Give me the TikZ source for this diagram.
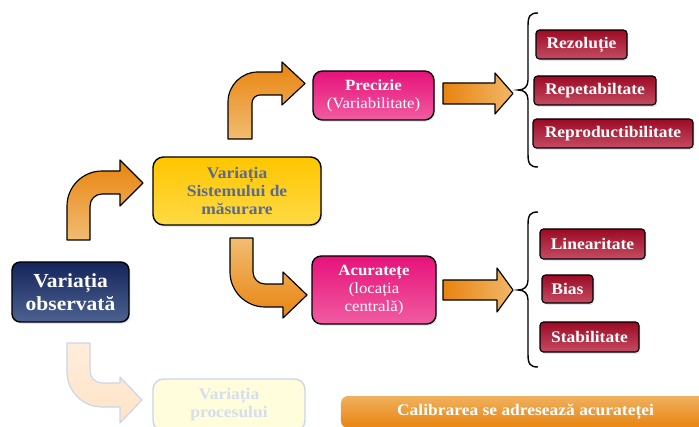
\documentclass[tikz,border=0pt]{standalone}
\usepackage{fontspec}
\setmainfont{Liberation Serif}[FakeStretch=1.08]
\usetikzlibrary{shadows}
\definecolor{navytop}{HTML}{15255C}
\definecolor{navybot}{HTML}{4D6290}
\definecolor{yeltop}{HTML}{FFC600}
\definecolor{yelbot}{HTML}{FFDA45}
\definecolor{yeltext}{HTML}{5A6B8E}
\definecolor{pinktop}{HTML}{E6127A}
\definecolor{pinkbot}{HTML}{F15CA2}
\definecolor{redtop}{HTML}{9C0A24}
\definecolor{redbot}{HTML}{C44C62}
\definecolor{ordark}{HTML}{E8840F}
\definecolor{orlight}{HTML}{F2BC72}
\definecolor{glow}{HTML}{C9D6EA}
\tikzstyle{boxbase}=[draw=black,line width=1.2pt,align=center,inner sep=0pt,
                     drop shadow={shadow xshift=1.2pt,shadow yshift=-1.5pt,
                                  fill=glow,opacity=0.6}]
\tikzstyle{navybox}=[boxbase,rounded corners=7pt,top color=navytop,bottom color=navybot,
                     text=white,font=\fontsize{17}{19.5}\selectfont\bfseries]
\tikzstyle{yelbox}=[boxbase,rounded corners=9pt,top color=yeltop,bottom color=yelbot,
                    text=yeltext,font=\fontsize{13.8}{15.3}\selectfont\bfseries]
\tikzstyle{pinkbox}=[boxbase,rounded corners=8pt,top color=pinktop,bottom color=pinkbot,
                     text=white,font=\fontsize{13.3}{15.3}\selectfont]
\tikzstyle{redbox}=[boxbase,line width=1pt,rounded corners=3pt,top color=redtop,
                    bottom color=redbot,text=white,font=\fontsize{13.8}{15}\selectfont\bfseries]
\tikzstyle{fadebox}=[draw=glow,line width=1.2pt,rounded corners=9pt,align=center,
                     inner sep=0pt,fill=yellow!14,text=glow!80,
                     font=\fontsize{13.8}{15.3}\selectfont\bfseries]
\tikzstyle{bentarrow}=[draw=black,line width=1pt,line join=round,
                       top color=ordark,bottom color=orlight]
\tikzstyle{flatarrow}=[draw=black,line width=1pt,line join=round,
                       left color=ordark,right color=orlight!90!ordark]
\tikzstyle{bracket}=[draw=black,line width=1.2pt]

\begin{document}
\begin{tikzpicture}[x=0.03cm,y=-0.03cm]
    \useasboundingbox (0,0) rectangle (699,427);
    % boxes
    \node (obs) at (70.5,292) [navybox,minimum width=3.51cm,minimum height=1.8cm]
        {Variația\\observată};
    \node (sms) at (237,191) [yelbox,minimum width=5.04cm,minimum height=2.04cm]
        {Variația\\Sistemului de\\măsurare};
    \node (proc) at (229,405) [fadebox,minimum width=4.56cm,minimum height=1.56cm]
        {Variația\\procesului};
    \node (prec) at (373.5,95.5) [pinkbox,minimum width=3.63cm,minimum height=1.47cm]
        {\textbf{Precizie}\\(Variabilitate)};
    \node (acc) at (374,290) [pinkbox,minimum width=3.72cm,minimum height=2.04cm]
        {\textbf{Acuratețe}\\(locația\\centrală)};
    \node (rez) at (581.5,44.5) [redbox,minimum width=2.73cm,minimum height=0.87cm] {Rezoluție};
    \node (rep) at (595,90.5) [redbox,minimum width=3.66cm,minimum height=0.87cm] {Repetabiltate};
    \node (repr) at (613,133.5) [redbox,minimum width=4.8cm,minimum height=0.87cm] {Reproductibilitate};
    \node (lin) at (592.5,244) [redbox,minimum width=3.15cm,minimum height=0.9cm] {Linearitate};
    \node (bias) at (567.5,289) [redbox,minimum width=1.53cm,minimum height=0.84cm] {Bias};
    \node (stab) at (589.5,337) [redbox,minimum width=2.97cm,minimum height=0.9cm] {Stabilitate};
    \node (calib) at (525.5,412) [rounded corners=6pt,top color=orlight!80!ordark,
        bottom color=ordark,text=white,minimum width=11.07cm,minimum height=0.96cm,
        font=\fontsize{13.8}{15}\selectfont\bfseries] {Calibrarea se adresează acurateței};
    % bent arrows
    \draw[bentarrow] (67,240) -- (67,206) .. controls (67,186.7) and (82.7,171) .. (102,171)
        -- (120,171) -- (120,160) -- (143,183) -- (120,206) -- (120,194) -- (102,194)
        .. controls (95.4,194) and (90,199.4) .. (90,206) -- (90,240) -- cycle;
    \draw[bentarrow] (228,139) -- (228,102) .. controls (228,85.4) and (241.4,72) .. (258,72)
        -- (282,72) -- (282,62) -- (305,83.5) -- (282,105) -- (282,95) -- (260,95)
        .. controls (255.6,95) and (252,98.6) .. (252,103) -- (252,139) -- cycle;
    \draw[bentarrow,top color=orlight,bottom color=ordark] (230,238) -- (253,238) -- (253,272)
        .. controls (253,278.6) and (258.4,284) .. (265,284) -- (283,284) -- (283,272)
        -- (307,295) -- (283,318) -- (283,307) -- (265,307)
        .. controls (245.7,307) and (230,291.3) .. (230,272) -- cycle;
    \draw[draw=glow,line width=1pt,line join=round,top color=orange!14,bottom color=orange!22]
        (67,343) -- (90,343) -- (90,371) .. controls (90,377.6) and (95.4,383) .. (102,383)
        -- (120,383) -- (120,377) -- (142,400) -- (120,423) -- (120,407) -- (102,407)
        .. controls (82.7,407) and (67,391.3) .. (67,372) -- cycle;
    % straight arrows
    \draw[flatarrow] (443,83) -- (495,83) -- (495,73) -- (513,93.5) -- (495,114)
        -- (495,104) -- (443,104) -- cycle;
    \draw[flatarrow] (443,280) -- (497,280) -- (497,268) -- (513,290) -- (497,312)
        -- (497,300) -- (443,300) -- cycle;
    % brackets
    \draw[bracket] (538,13) .. controls (530,13) and (528,16) .. (528,26) -- (528,80)
        .. controls (528,87) and (524,90) .. (518,90) .. controls (524,90) and (528,93) .. (528,100)
        -- (528,154) .. controls (528,164) and (530,167) .. (538,167);
    \draw[bracket] (538,212) .. controls (530,212) and (528,215) .. (528,225) -- (528,280)
        .. controls (528,287) and (524,290) .. (518,290) .. controls (524,290) and (528,293) .. (528,300)
        -- (528,354) .. controls (528,364) and (530,367) .. (538,367);
\end{tikzpicture}
\end{document}
